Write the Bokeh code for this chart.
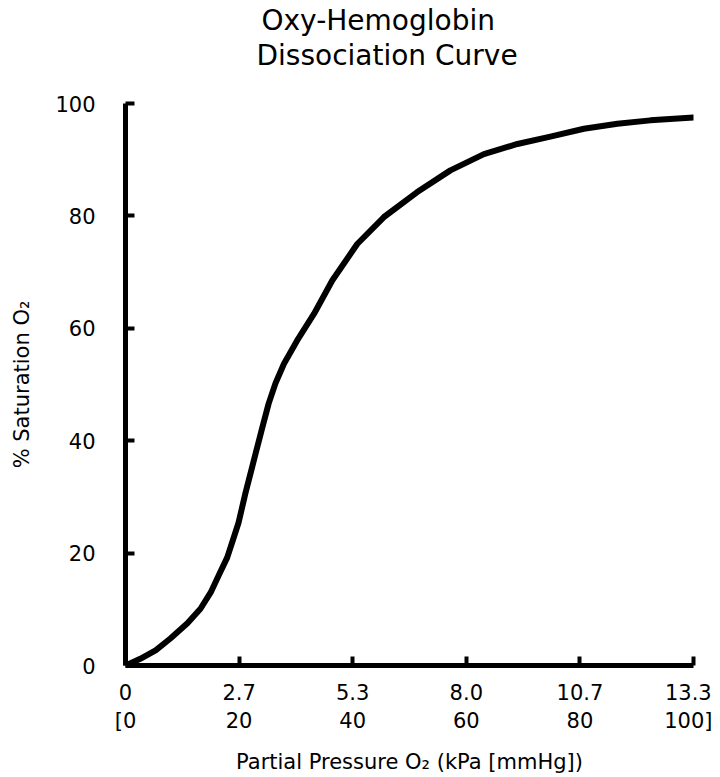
from bokeh.plotting import figure
from bokeh.models import Range1d, FixedTicker, Title
from bokeh.embed import file_html
from bokeh.resources import INLINE

# Data: partial pressure (mmHg) and % saturation
po2_mmhg = [0, 2.6, 5.3, 7.9, 10.9, 13.2, 15.0, 16.4, 17.9, 19.0, 19.9, 21.1,
            22.6, 24.1, 25.2, 26.4, 27.9, 30.2, 33.2, 36.4, 40.8, 45.5, 51.3,
            57.2, 63.1, 69.0, 74.8, 80.7, 86.6, 92.4, 100]
saturation = [0, 1.2, 2.7, 4.8, 7.5, 10.1, 13.0, 16.0, 19.2, 22.6, 25.4, 30.6,
              36.5, 42.4, 46.6, 50.2, 53.7, 57.8, 62.6, 68.5, 75.0, 79.8, 84.2,
              88.1, 91.0, 92.8, 94.1, 95.5, 96.4, 97.0, 97.5]

x_ticks = [0, 20, 40, 60, 80, 100]
x_tick_labels = ["0\n[0", "2.7\n20", "5.3\n40", "8.0\n60", "10.7\n80", "13.3\n100]"]
y_ticks = [0, 20, 40, 60, 80, 100]

title_lines = ["Oxy-Hemoglobin", "Dissociation Curve"]

FONT = "DejaVu Sans"

p = figure(frame_width=568, frame_height=562, output_backend="svg", toolbar_location=None,
           x_range=Range1d(0, 100), y_range=Range1d(0, 100),
           min_border_left=125, min_border_right=19, min_border_top=103, min_border_bottom=10)
p.outline_line_color = None
p.grid.visible = False
p.background_fill_color = "white"

p.line(po2_mmhg, saturation, line_width=6, line_color="black", line_join="round", line_cap="round")

for ax in (p.xaxis[0], p.yaxis[0]):
    ax.axis_line_width = 5
    ax.axis_line_color = "black"
    ax.major_tick_line_width = 4
    ax.major_tick_in = 9
    ax.major_tick_out = 0
    ax.minor_tick_line_color = None
    ax.major_label_text_font = FONT
    ax.major_label_text_font_size = "21px"
    ax.major_label_text_color = "black"
    ax.axis_label_text_font = FONT
    ax.axis_label_text_font_size = "21px"
    ax.axis_label_text_font_style = "normal"
    ax.axis_label_text_color = "black"

p.xaxis.ticker = FixedTicker(ticks=x_ticks)
p.xaxis.major_label_overrides = {t: l for t, l in zip(x_ticks, x_tick_labels)}
p.xaxis.major_label_standoff = 15
p.xaxis.axis_label = "Partial Pressure O\u2082 (kPa [mmHg])"
p.xaxis.axis_label_standoff = 14

p.yaxis.ticker = FixedTicker(ticks=y_ticks)
p.yaxis.major_label_standoff = 30
p.yaxis.axis_label = "% Saturation O\u2082"
p.yaxis.axis_label_standoff = 18

# spacer title nearest to the frame, then the two title lines
p.add_layout(Title(text=" ", text_font=FONT, text_font_size="26px", standoff=0), "above")
offsets = [136, 131]
for line, off in reversed(list(zip(title_lines, offsets))):
    t = Title(text=line, align="left", offset=off, text_font=FONT,
              text_font_size="28px", text_font_style="normal", text_color="black",
              standoff=0)
    p.add_layout(t, "above")

open("out.html", "w").write(file_html(p, INLINE))
